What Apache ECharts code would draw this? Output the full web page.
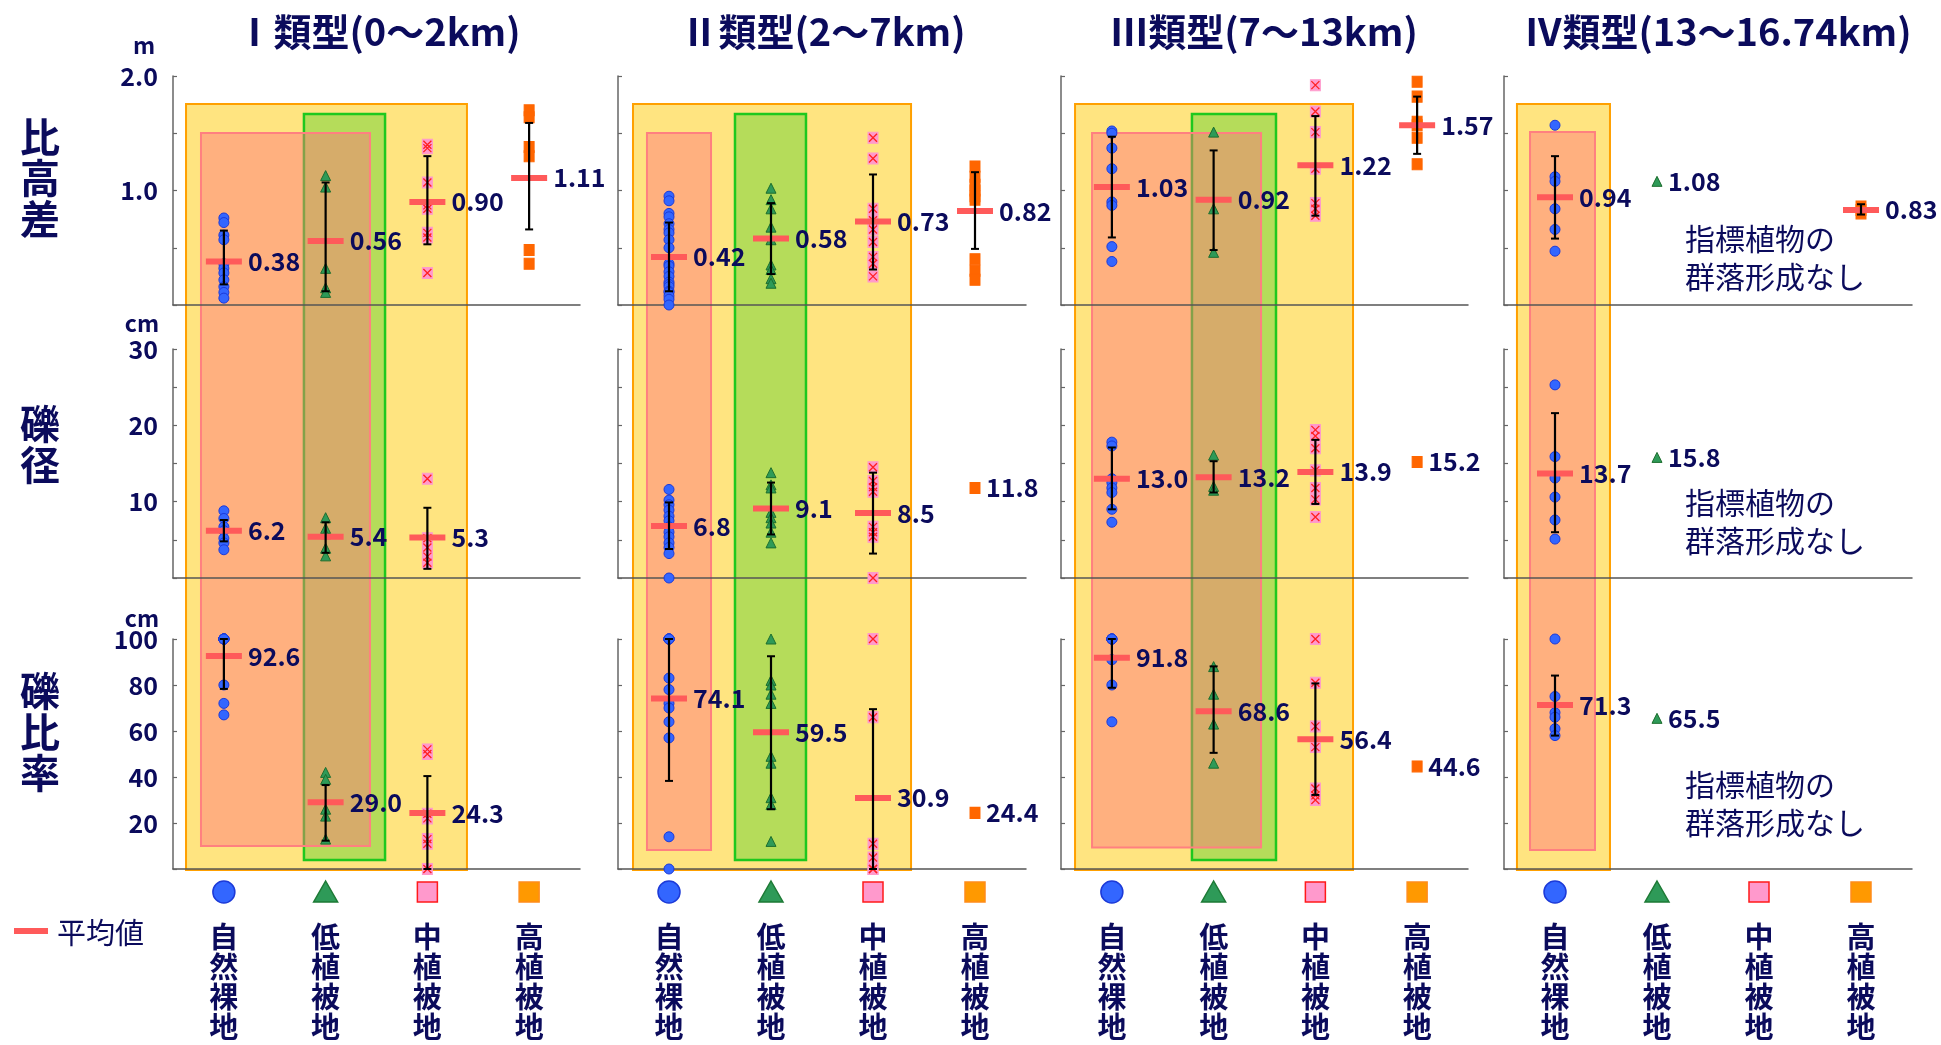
<!DOCTYPE html>
<html>
<head>
<meta charset="utf-8">
<script src="https://cdn.jsdelivr.net/npm/echarts@6/dist/echarts.min.js"></script>
<style>
  html, body { margin: 0; padding: 0; background: #fff; }
  #main { width: 1941px; height: 1045px; }
</style>
</head>
<body>
<div id="main"></div>
<script>
// カテゴリ・タイトル
const categories = ['自然裸地', '低植被地', '中植被地', '高植被地'];
const typeTitles = ['Ⅰ類型(0～2km)', 'Ⅱ類型(2～7km)', 'Ⅲ類型(7～13km)', 'Ⅳ類型(13～16.74km)'];
const rowNames = ['比高差', '礫径', '礫比率'];
const rowUnits = ['m', 'cm', 'cm'];
const yMax = [2, 30, 100];
const yTick = [0.5, 5, 20];
const yLabelStep = [1, 10, 20];
const labelDigits = [2, 1, 1];
const noCommunity = '指標植物の\n群落形成なし';

// 比高差 (m) : [類型][植被]
const heightPoints = [
  [[0.76, 0.72, 0.61, 0.57, 0.36, 0.32, 0.28, 0.22, 0.16, 0.11, 0.06],
   [1.13, 1.03, 0.32, 0.15, 0.11],
   [1.40, 1.37, 1.07, 0.87, 0.84, 0.63, 0.59, 0.28],
   [1.70, 1.64, 1.38, 1.30, 0.48, 0.36]],
  [[0.95, 0.91, 0.80, 0.77, 0.71, 0.66, 0.63, 0.57, 0.50, 0.36, 0.34, 0.29, 0.25, 0.20, 0.18, 0.16, 0.12, 0.11, 0.08, 0.05, 0.00],
   [1.02, 0.92, 0.84, 0.68, 0.57, 0.35, 0.31, 0.23, 0.19],
   [1.46, 1.28, 0.84, 0.74, 0.66, 0.55, 0.42, 0.36, 0.25],
   [1.21, 1.12, 1.05, 1.00, 0.95, 0.92, 0.40, 0.30, 0.22]],
  [[1.52, 1.50, 1.37, 1.19, 0.90, 0.87, 0.51, 0.38],
   [1.51, 0.84, 0.46],
   [1.92, 1.69, 1.51, 1.19, 0.89, 0.84, 0.78],
   [1.95, 1.82, 1.60, 1.57, 1.46, 1.23]],
  [[1.57, 1.12, 1.08, 0.84, 0.66, 0.47],
   [1.08],
   null,
   [0.86, 0.83, 0.80]]
];
const heightMean = [[0.38, 0.56, 0.90, 1.11], [0.42, 0.58, 0.73, 0.82], [1.03, 0.92, 1.22, 1.57], [0.94, 1.08, null, 0.83]];
const heightBar = [
  [[0.18, 0.65], [0.12, 1.07], [0.53, 1.30], [0.66, 1.59]],
  [[0.12, 0.72], [0.27, 0.89], [0.31, 1.14], [0.49, 1.16]],
  [[0.59, 1.47], [0.48, 1.35], [0.78, 1.65], [1.32, 1.82]],
  [[0.58, 1.30], null, null, [0.79, 0.88]]
];

// 礫径 (cm)
const sizePoints = [
  [[8.8, 7.8, 6.7, 6.2, 5.2, 4.6, 3.7],
   [7.9, 6.5, 5.8, 3.9, 2.9],
   [13.0, 5.2, 4.0, 2.8, 2.0],
   null],
  [[11.6, 10.2, 9.6, 8.9, 8.1, 7.5, 6.7, 6.0, 5.4, 4.6, 4.0, 3.2, 0.0],
   [13.8, 12.2, 11.8, 8.6, 7.9, 7.2, 6.0, 4.6],
   [14.5, 12.7, 11.9, 11.3, 6.7, 6.0, 5.4, 0.0],
   [11.8]],
  [[17.8, 17.3, 13.0, 12.5, 11.8, 11.2, 9.0, 7.3],
   [16.1, 12.0, 11.5],
   [19.4, 18.6, 17.0, 14.1, 11.8, 10.3, 8.0],
   [15.2]],
  [[25.3, 15.9, 13.1, 10.6, 7.6, 5.1],
   [15.8],
   null,
   null]
];
const sizeMean = [[6.2, 5.4, 5.3, null], [6.8, 9.1, 8.5, 11.8], [13.0, 13.2, 13.9, 15.2], [13.7, 15.8, null, null]];
const sizeBar = [
  [[4.8, 7.6], [3.3, 7.3], [1.2, 9.2], null],
  [[3.8, 9.9], [5.7, 12.5], [3.2, 13.8], null],
  [[9.0, 17.1], [11.2, 15.3], [9.7, 18.1], null],
  [[6.0, 21.6], null, null, null]
];

// 礫比率 (%)
const ratioPoints = [
  [[100, 100, 100, 100, 100, 100, 100, 100, 80, 72, 67],
   [42, 39, 26, 23, 13],
   [52, 50, 24, 22, 13, 11, 0],
   null],
  [[100, 100, 100, 100, 100, 100, 83, 78, 72, 70, 64, 57, 14, 0],
   [100, 82, 80, 76, 72, 49, 46, 31, 28, 12],
   [100, 66, 11, 5, 0, 0],
   [24.4]],
  [[100, 100, 100, 100, 100, 91, 80, 64],
   [88, 76, 63, 46],
   [100, 81, 62, 53, 35, 32, 30],
   [44.6]],
  [[100, 75, 68, 66, 61, 58],
   [65.5],
   null,
   null]
];
const ratioMean = [[92.6, 29.0, 24.3, null], [74.1, 59.5, 30.9, 24.4], [91.8, 68.6, 56.4, 44.6], [71.3, 65.5, null, null]];
const ratioBar = [
  [[78.3, 106], [12.3, 36.5], [-2, 40.4], null],
  [[38.3, 110], [26, 92.5], [-8, 69.5], null],
  [[78.8, 105], [50.5, 88.1], [32.2, 80.7], null],
  [[58, 84.1], null, null, null]
];

const pointsByRow = [heightPoints, sizePoints, ratioPoints];
const meanByRow = [heightMean, sizeMean, ratioMean];
const barByRow = [heightBar, sizeBar, ratioBar];

// レイアウト
const navy = '#0b0b5c';
const jp = '"Noto Sans CJK JP", sans-serif';
const colX = [[173, 580], [618, 1026], [1061, 1468], [1504, 1912]];
const rowY = [[76, 305], [349, 578], [639, 869]];

const markers = [
  { symbol: 'circle', size: [10, 10], color: '#3366ff', border: '#1c3ad8' },
  { symbol: 'triangle', size: [10, 10], color: '#2e9a58', border: '#1d6e2e' },
  { symbol: 'rect', size: [10, 11], color: '#ff99cc', border: '#ff99cc' },
  { symbol: 'rect', size: [10, 11], color: '#ff6600', border: '#ff6600' }
];

// 背景の枠 (x: カテゴリ単位, top: 比高差の値, bottom: 礫比率の値)
const zones = [
  { col: 0, kind: 'yellow', x: [-0.372, 2.389], top: 1.755, bottom: -0.4 },
  { col: 0, kind: 'green', x: [0.787, 1.584], top: 1.668, bottom: 3.9 },
  { col: 0, kind: 'pink', x: [-0.225, 1.436], top: 1.502, bottom: 10 },
  { col: 1, kind: 'yellow', x: [-0.353, 2.373], top: 1.755, bottom: -0.4 },
  { col: 1, kind: 'green', x: [0.647, 1.343], top: 1.668, bottom: 3.9 },
  { col: 1, kind: 'pink', x: [-0.216, 0.412], top: 1.502, bottom: 8.3 },
  { col: 2, kind: 'yellow', x: [-0.362, 2.370], top: 1.755, bottom: -0.4 },
  { col: 2, kind: 'green', x: [0.787, 1.613], top: 1.668, bottom: 3.9 },
  { col: 2, kind: 'pink', x: [-0.195, 1.466], top: 1.502, bottom: 9.3 },
  { col: 3, kind: 'yellow', x: [-0.373, 0.539], top: 1.755, bottom: -0.4 },
  { col: 3, kind: 'pink', x: [-0.245, 0.392], top: 1.511, bottom: 8.3 }
];
const zoneStyle = {
  yellow: { fill: '#ffe480', stroke: '#ffa000', lineWidth: 2 },
  green: { fill: '#b5dc5a', stroke: '#1ec81e', lineWidth: 2.5 },
  pink: { fill: 'rgba(255,112,126,0.45)', stroke: '#ff8080', lineWidth: 2 }
};

const chart = echarts.init(document.getElementById('main'));

const grids = [], xAxes = [], yAxes = [], series = [];

function makeRender(digits) {
  return function (params, api) {
    const cs = params.coordSys;
    const clampY = y => Math.min(cs.y + cs.height, Math.max(cs.y, y));
    const g = api.value(0), mean = api.value(1), n = api.value(4);
    const p = api.coord([g, mean]);
    const cx = p[0], cy = p[1];
    const kids = [];
    let textX = cx + 11;
    if (n > 1) {
      const yLow = clampY(api.coord([g, api.value(2)])[1]);
      const yHigh = clampY(api.coord([g, api.value(3)])[1]);
      kids.push({ type: 'rect', shape: { x: cx - 18, y: cy - 3, width: 36, height: 6 }, style: { fill: '#ff5a5a' } });
      kids.push({ type: 'line', shape: { x1: cx, y1: yLow, x2: cx, y2: yHigh }, style: { stroke: '#000', lineWidth: 2.2 } });
      kids.push({ type: 'line', shape: { x1: cx - 4, y1: yLow, x2: cx + 4, y2: yLow }, style: { stroke: '#000', lineWidth: 2 } });
      kids.push({ type: 'line', shape: { x1: cx - 4, y1: yHigh, x2: cx + 4, y2: yHigh }, style: { stroke: '#000', lineWidth: 2 } });
      textX = cx + 24;
    }
    kids.push({
      type: 'text', x: textX, y: cy,
      style: { text: mean.toFixed(digits), fill: navy, font: 'bold 25px ' + jp, align: 'left', verticalAlign: 'middle', textAlign: 'left', textVerticalAlign: 'middle' }
    });
    return { type: 'group', children: kids };
  };
}

for (let r = 0; r < 3; r++) {
  for (let c = 0; c < 4; c++) {
    const idx = r * 4 + c;
    grids.push({ left: colX[c][0], top: rowY[r][0], width: colX[c][1] - colX[c][0], height: rowY[r][1] - rowY[r][0] });
    xAxes.push({
      gridIndex: idx, type: 'category', data: categories, z: 1,
      axisLine: { lineStyle: { color: '#555', width: 1.5 } },
      axisTick: { inside: true, length: 4, lineStyle: { color: '#555', width: 1.2 } },
      axisLabel: r === 2 ? {
        show: true, interval: 0, margin: 53,
        formatter: v => v.split('').join('\n'),
        fontSize: 29, lineHeight: 30, fontWeight: 'bold', fontFamily: jp, color: navy, verticalAlign: 'top'
      } : { show: false },
      splitLine: { show: false }
    });
    const step = yLabelStep[r], dg = r === 0 ? 1 : 0;
    yAxes.push({
      gridIndex: idx, type: 'value', min: 0, max: yMax[r], interval: yTick[r], z: 1,
      axisLine: { show: true, lineStyle: { color: '#666', width: 1.5 } },
      axisTick: { show: true, inside: true, length: 4, lineStyle: { color: '#666', width: 1.2 } },
      splitLine: { show: false },
      axisLabel: {
        show: c === 0, margin: 15, fontSize: 25, fontWeight: 'bold', fontFamily: jp, color: navy,
        formatter: v => (v > 0 && Math.abs(v / step - Math.round(v / step)) < 1e-6) ? v.toFixed(dg) : ''
      }
    });

    const pts = pointsByRow[r][c], means = meanByRow[r][c], bars = barByRow[r][c];
    const customData = [];
    for (let g = 0; g < 4; g++) {
      if (!pts[g]) continue;
      const m = markers[g];
      series.push({
        type: 'scatter', xAxisIndex: idx, yAxisIndex: idx, z: 3, silent: true,
        symbol: m.symbol, symbolSize: m.size,
        itemStyle: { color: m.color, borderColor: m.border, borderWidth: 1, opacity: 1 },
        data: pts[g].map(v => [g, v])
      });
      if (g === 2) {
        series.push({
          type: 'scatter', xAxisIndex: idx, yAxisIndex: idx, z: 3, silent: true,
          symbol: 'path://M0,0L10,10M10,0L0,10', symbolSize: [8, 8],
          itemStyle: { color: 'rgba(0,0,0,0)', borderColor: '#ff2020', borderWidth: 1.3, opacity: 1 },
          data: pts[g].map(v => [g, v])
        });
      }
      const b = bars[g] || [means[g], means[g]];
      customData.push([g, means[g], b[0], b[1], pts[g].length]);
    }
    series.push({
      type: 'custom', xAxisIndex: idx, yAxisIndex: idx, z: 4, silent: true,
      renderItem: makeRender(labelDigits[r]), data: customData
    });
  }
}

chart.setOption({
  animation: false,
  backgroundColor: '#fff',
  grid: grids, xAxis: xAxes, yAxis: yAxes, series: series
});

// 位置はチャートの座標系から求める
function catX(idx, pos) {
  const p0 = chart.convertToPixel({ xAxisIndex: idx }, categories[0]);
  const p1 = chart.convertToPixel({ xAxisIndex: idx }, categories[1]);
  return p0 + pos * (p1 - p0);
}
function valY(idx, v) { return chart.convertToPixel({ yAxisIndex: idx }, v); }

const elements = [];
zones.forEach(z => {
  const x0 = catX(z.col, z.x[0]), x1 = catX(z.col, z.x[1]);
  const y0 = valY(z.col, z.top), y1 = valY(8 + z.col, z.bottom);
  elements.push({ type: 'rect', z: 0, silent: true, shape: { x: x0, y: y0, width: x1 - x0, height: y1 - y0 }, style: zoneStyle[z.kind] });
});

const txt = (x, y, text, font, extra) => Object.assign({
  type: 'text', z: 10, silent: true, x: x, y: y,
  style: Object.assign({ text: text, font: font, fill: navy, align: 'center', verticalAlign: 'middle', textAlign: 'center', textVerticalAlign: 'middle' }, extra || {})
});

// 類型タイトル
const titleX = [378, 823, 1264, 1718];
typeTitles.forEach((t, c) => elements.push(txt(titleX[c], 32, t, 'bold 38px ' + jp)));
// 行ラベル
const rowLabelY = [178, 444, 732];
rowNames.forEach((t, r) => elements.push(txt(40, rowLabelY[r], t.split('').join('\n'), 'bold 40px ' + jp, { lineHeight: 41 })));
// 単位
const unitPos = [[144, 45], [142, 323], [142, 618]];
rowUnits.forEach((u, r) => elements.push(txt(unitPos[r][0], unitPos[r][1], u, 'bold 23px ' + jp)));

// 凡例記号 (各類型の下)
for (let c = 0; c < 4; c++) {
  const idx = 8 + c;
  const y = valY(idx, 0) + 23;
  for (let g = 0; g < 4; g++) {
    const x = catX(idx, g);
    if (g === 0) elements.push({ type: 'ellipse', z: 10, silent: true, shape: { cx: x, cy: y, rx: 11, ry: 11 }, style: { fill: '#3366ff', stroke: '#1c3ad8', lineWidth: 1.5 } });
    if (g === 1) elements.push({ type: 'polygon', z: 10, silent: true, shape: { points: [[x, y - 11], [x + 12, y + 10], [x - 12, y + 10]] }, style: { fill: '#2e9a58', stroke: '#1d7a35', lineWidth: 1.5 } });
    if (g === 2) elements.push({ type: 'rect', z: 10, silent: true, shape: { x: x - 10, y: y - 10, width: 20, height: 20 }, style: { fill: '#ff99cc', stroke: '#ff1a1a', lineWidth: 1.5 } });
    if (g === 3) elements.push({ type: 'rect', z: 10, silent: true, shape: { x: x - 10, y: y - 10, width: 20, height: 20 }, style: { fill: '#ff9900', stroke: '#ff8c1a', lineWidth: 1.5 } });
  }
}

// 指標植物の群落形成なし (Ⅳ類型)
const noteY = [258, 522, 804];
noteY.forEach(y => elements.push(txt(1685, y, noCommunity, '30px ' + jp, { align: 'left', textAlign: 'left', lineHeight: 38 })));

// 平均値の凡例
elements.push({ type: 'rect', z: 10, silent: true, shape: { x: 14, y: 928, width: 34, height: 6 }, style: { fill: '#ff5a5a' } });
elements.push(txt(57, 933, '平均値', '29px ' + jp, { align: 'left', textAlign: 'left' }));

chart.setOption({ graphic: { elements: elements } });
</script>
</body>
</html>
